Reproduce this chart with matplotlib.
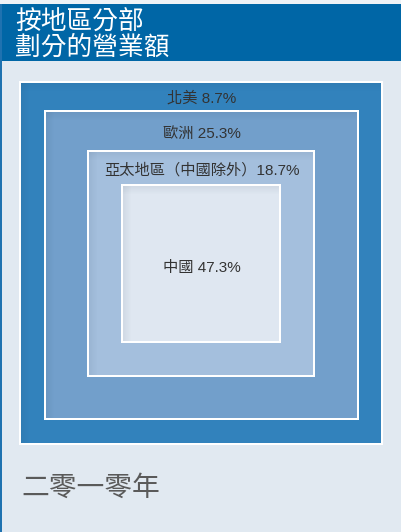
import matplotlib.pyplot as plt
from matplotlib.patches import Rectangle

# data: regions from outside to inside, share of revenue
regions = ['北美', '歐洲', '亞太地區（中國除外）', '中國']
shares = [8.7, 25.3, 18.7, 47.3]
title = '按地區分部\n劃分的營業額'
year_label = '二零一零年'

# layout (pixel coords) for each nested box: left, top, right, bottom
boxes = [(21, 83, 381, 443), (46, 112, 357, 418), (89, 152, 313, 375), (123, 186, 279, 341)]
fills = ['#3282bc', '#729fcb', '#a4bfdd', '#dfe7f1']
label_y = [98, 134, 170, 268]

W, H = 401, 532
fig = plt.figure(figsize=(W / 100, H / 100), dpi=100)
ax = fig.add_axes([0, 0, 1, 1])
ax.set_xlim(0, W)
ax.set_ylim(H, 0)
ax.axis('off')
fig.patch.set_facecolor('#e1e9f1')

fonts = ['Liberation Sans', 'Noto Sans CJK TC', 'DejaVu Sans']

# top strip and title bar
ax.add_patch(Rectangle((0, 0), W, 4, color='#eef2f6', lw=0))
ax.add_patch(Rectangle((2, 4), W - 2, 57, color='#0066a6', lw=0))
ax.add_patch(Rectangle((0, 4), 2, H - 4, color='#1f72b0', lw=0))
ax.text(15, 35, title, color='white', fontsize=18.5, fontweight='medium',
        family=['Noto Sans CJK TC'], va='center', ha='left', linespacing=0.95)

# nested boxes with white frame and a soft inner shadow on top/left
for (l, t, r, b), c in zip(boxes, fills):
    ax.add_patch(Rectangle((l - 2, t - 2), r - l + 4, b - t + 4, color='white', lw=0))
    ax.add_patch(Rectangle((l, t), r - l, b - t, color=c, lw=0))
    for k in range(8):
        a = 0.07 * (1 - k / 8)
        ax.add_patch(Rectangle((l, t + k), r - l, 1, color='#1a3550', alpha=a, lw=0))
        ax.add_patch(Rectangle((l + k, t), 1, b - t, color='#1a3550', alpha=a, lw=0))

for name, s, y in zip(regions, shares, label_y):
    sep = '' if name.endswith('）') else ' '
    ax.text(202, y, f'{name}{sep}{s}%', color='#333333', fontsize=11,
            family=fonts, ha='center', va='center')

ax.text(21, 488, year_label, color='#5a5a5a', fontsize=20, fontweight='light',
        family=['Noto Sans CJK TC'], ha='left', va='center')

fig.savefig('out.png', dpi=100, facecolor=fig.get_facecolor())
